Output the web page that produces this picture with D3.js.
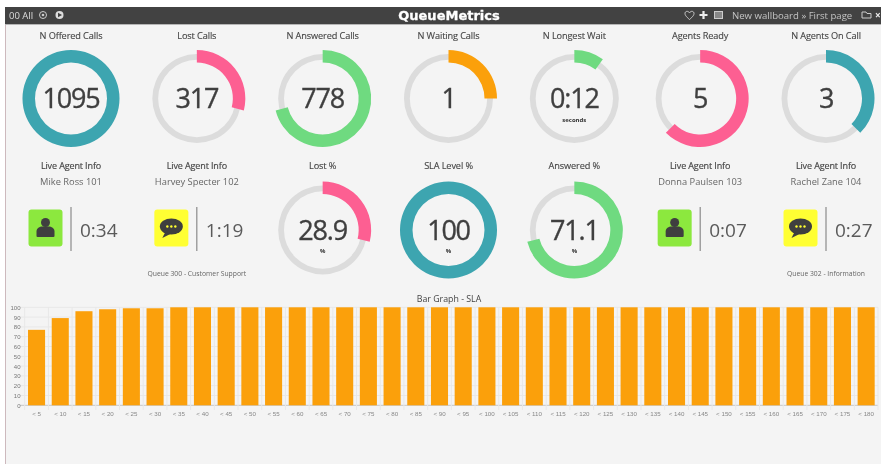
<!DOCTYPE html>
<html><head><meta charset="utf-8">
<script src="https://cdn.jsdelivr.net/npm/d3@7"></script>
<style>html,body{margin:0;padding:0;background:#fff;overflow:hidden}svg{display:block;filter:blur(.35px)}text{font-family:"Open Sans",sans-serif}</style>
</head><body><svg id="c" width="881" height="464"></svg>
<script>
const gaugeTitles=["N Offered Calls","Lost Calls","N Answered Calls","N Waiting Calls","N Longest Wait","Agents Ready","N Agents On Call","Lost %","SLA Level %","Answered %"];
const gaugeLabels=["1095","317","778","1","0:12","5","3","28.9","100","71.1"];
const gaugeValues=[1095,317,778,1,12,5,3,28.9,100,71.1];
const gaugeMax=[1095,1095,1095,4,120,8,8,100,100,100];
const gaugeUnits=["","","","","seconds","","","%","%","%"];
const gaugeColors=["#3da5b0","#fd5f92","#6fda80","#fba00b","#6fda80","#fd5f92","#3da5b0","#fd5f92","#3da5b0","#6fda80"];
const gaugeCol=[0,1,2,3,4,5,6,2,3,4];
const gaugeRow=[0,0,0,0,0,0,0,1,1,1];
const agentNames=["Mike Ross 101","Harvey Specter 102","Donna Paulsen 103","Rachel Zane 104"];
const agentTimes=["0:34","1:19","0:07","0:27"];
const agentStates=["ready","call","ready","call"];
const agentCol=[0,1,5,6];
const queueNotes=["Queue 300 - Customer Support","Queue 302 - Information"];
const queueCol=[1,6];
const slaCats=["< 5","< 10","< 15","< 20","< 25","< 30","< 35","< 40","< 45","< 50","< 55","< 60","< 65","< 70","< 75","< 80","< 85","< 90","< 95","< 100","< 105","< 110","< 115","< 120","< 125","< 130","< 135","< 140","< 145","< 150","< 155","< 160","< 165","< 170","< 175","< 180"];
const slaVals=[77,89,96,98,99,99,100,100,100,100,100,100,100,100,100,100,100,100,100,100,100,100,100,100,100,100,100,100,100,100,100,100,100,100,100,100];
const yTicks=[0,10,20,30,40,50,60,70,80,90,100];

const svg=d3.select("#c");
svg.append("rect").attr("x",5).attr("y",7).attr("width",876).attr("height",457).attr("fill","#f4f4f4");
svg.append("rect").attr("x",5).attr("y",7).attr("width",1).attr("height",457).attr("fill","#cdb9bd");
svg.append("rect").attr("x",5).attr("y",7).attr("width",876).attr("height",17).attr("fill","#424242");
svg.append("rect").attr("x",5).attr("y",24).attr("width",876).attr("height",1).attr("fill","#b5b5b5");

const T=(x,y,s,size,o={})=>svg.append("text").attr("x",x).attr("y",y).attr("text-anchor",o.a||"middle")
  .attr("font-size",size).attr("font-weight",o.w||400).attr("fill",o.c||"#444").style("font-family",o.f||null).style("letter-spacing",o.ls||null).text(s);

// header
T(9,18.5,"00 All",9.5,{a:"start",c:"#dcdcdc"});
svg.append("circle").attr("cx",43).attr("cy",15).attr("r",3.5).attr("fill","none").attr("stroke","#ccc").attr("stroke-width",1);
svg.append("circle").attr("cx",43).attr("cy",15).attr("r",1.3).attr("fill","#ccc");
svg.append("circle").attr("cx",59.5).attr("cy",15).attr("r",4).attr("fill","#ddd");
svg.append("path").attr("d","M58 12.8L62 15L58 17.2Z").attr("fill","#424242");
T(449,20,"QueueMetrics",13,{w:700,c:"#fff",f:"DejaVu Sans"}).attr("stroke","#fff").attr("stroke-width",0.3);
svg.append("path").attr("d","M689.500 19.500C686 16.500 685 15 685 13.500C685 11 688 10.500 689.500 12.800C691 10.500 694 11 694 13.500C694 15 693 16.500 689.500 19.500Z").attr("fill","none").attr("stroke","#ccc");
svg.append("path").attr("d","M703.500 11V19M699.500 15H707.500").attr("stroke","#eee").attr("stroke-width",2.2);
svg.append("rect").attr("x",714.500).attr("y",11.500).attr("width",8).attr("height",7).attr("fill","#888").attr("stroke","#ccc");
T(732,18.5,"New wallboard » First page",9.6,{a:"start",c:"#c4c4c4"});
svg.append("path").attr("d","M862 12H866L867 13.500H871V18H862Z").attr("fill","none").attr("stroke","#ccc");
T(875,18.5,"×",10,{a:"start",w:700,c:"#eee"});

// layout scales
const colX=d3.scalePoint().domain(d3.range(7)).range([71,826]);
const rowY=d3.scalePoint().domain([0,1]).range([98.5,230]);
const arcBg=d3.arc().innerRadius(38.7).outerRadius(44.5).startAngle(0).endAngle(2*Math.PI);
const arcFg=d3.arc().innerRadius(36).outerRadius(48.5).startAngle(0);
gaugeTitles.forEach((t,i)=>{
  const cx=colX(gaugeCol[i]),cy=rowY(gaugeRow[i]);
  const g=svg.append("g").attr("transform",`translate(${cx},${cy})`);
  const a=d3.scaleLinear().domain([0,gaugeMax[i]]).range([0,2*Math.PI]);
  g.append("path").attr("d",arcBg()).attr("fill","#dcdcdc");
  g.append("path").attr("d",arcFg({endAngle:a(gaugeValues[i])})).attr("fill",gaugeColors[i]);
  T(cx,cy-60+(gaugeRow[i]?-1:0),t,9.2,{c:"#444",ls:"-0.12px"}).attr("stroke","#444").attr("stroke-width",0.12);
  T(cx,cy+9.5,gaugeLabels[i],27,{c:"#3f3f3f",ls:"-1.2px"}).attr("stroke","#3f3f3f").attr("stroke-width",0.35);
  if(gaugeUnits[i]) T(cx,cy+23,gaugeUnits[i],6,{w:700,c:"#333"});
});

// agents
const personIcon=(g)=>{
  g.append("circle").attr("cx",0).attr("cy",-5.500).attr("r",4.500).attr("fill","#3f3f3f");
  g.append("path").attr("d","M-9 8V3.500C-9 0-6-1.500-3-1.500H3C6-1.500 9 0 9 3.500V8Q9 9 8 9H-8Q-9 9-9 8Z").attr("fill","#3f3f3f");
};
const bubbleIcon=(g)=>{
  g.append("ellipse").attr("rx",11.500).attr("ry",8).attr("cy",-1.500).attr("fill","#3f3f3f");
  g.append("path").attr("d","M-6 4L-9 10L-1 6Z").attr("fill","#3f3f3f");
  [-4,0,4].forEach(x=>g.append("circle").attr("cx",x).attr("cy",-1.500).attr("r",1.200).attr("fill","#ffff33"));
};
agentNames.forEach((n,i)=>{
  const cx=colX(agentCol[i]);
  T(cx,169,"Live Agent Info",9,{c:"#444",ls:"-0.12px"}).attr("stroke","#444").attr("stroke-width",0.15);
  T(cx,184.500,n,9.300,{c:"#666"});
  const call=agentStates[i]==="call";
  svg.append("rect").attr("x",cx-42.500).attr("y",209.500).attr("width",34).attr("height",37).attr("rx",3).attr("fill",call?"#ffff33":"#8ce83e");
  const ig=svg.append("g").attr("transform",`translate(${cx-25.500},228)`);
  (call?bubbleIcon:personIcon)(ig);
  svg.append("rect").attr("x",cx+0.500-1).attr("y",207).attr("width",1).attr("height",44).attr("fill","#777");
  T(cx+9,236.500,agentTimes[i],19,{a:"start",c:"#5a5a5a"});
});
queueNotes.forEach((n,i)=>T(colX(queueCol[i]),276,n,6.800,{c:"#666"}));

// bar chart
T(449,301.500,"Bar Graph - SLA",8.800,{c:"#444"});
const x=d3.scaleBand().domain(slaCats).range([24.7,878]).paddingInner(0.28).paddingOuter(0.14);
const y=d3.scaleLinear().domain([0,100]).range([405.3,307.3]);
const step=x.step();
const gridG=svg.append("g");
gridG.selectAll("line.h").data(yTicks).join("line").attr("class","h")
  .attr("x1",20).attr("x2",878).attr("y1",d=>y(d)).attr("y2",d=>y(d)).attr("stroke",d=>d===0?"#c6c6c6":"#e8e8e8");
gridG.selectAll("line.v").data(d3.range(slaCats.length+1)).join("line").attr("class","v")
  .attr("x1",d=>24.7+d*step).attr("x2",d=>24.7+d*step).attr("y1",307.3).attr("y2",410).attr("stroke","#e8e8e8");
svg.append("g").selectAll("rect").data(slaVals).join("rect")
  .attr("x",(d,i)=>x(slaCats[i])).attr("width",x.bandwidth()).attr("y",d=>y(d)).attr("height",d=>y(0)-y(d)).attr("fill","#fba00b");
const yAxis=d3.axisLeft(y).tickValues(yTicks).tickSize(0).tickPadding(4.500);
const ya=svg.append("g").attr("transform","translate(25,0)").call(yAxis);
ya.select(".domain").remove();
ya.selectAll("text").attr("font-size",6).attr("fill","#777").style("font-family","'Liberation Sans'");
const xAxis=d3.axisBottom(x).tickSize(0).tickPadding(6);
const xa=svg.append("g").attr("transform","translate(0,405.3)").call(xAxis);
xa.select(".domain").remove();
xa.selectAll("text").attr("font-size",6.200).attr("fill","#888").style("font-family","'Liberation Sans'");
</script></body></html>
